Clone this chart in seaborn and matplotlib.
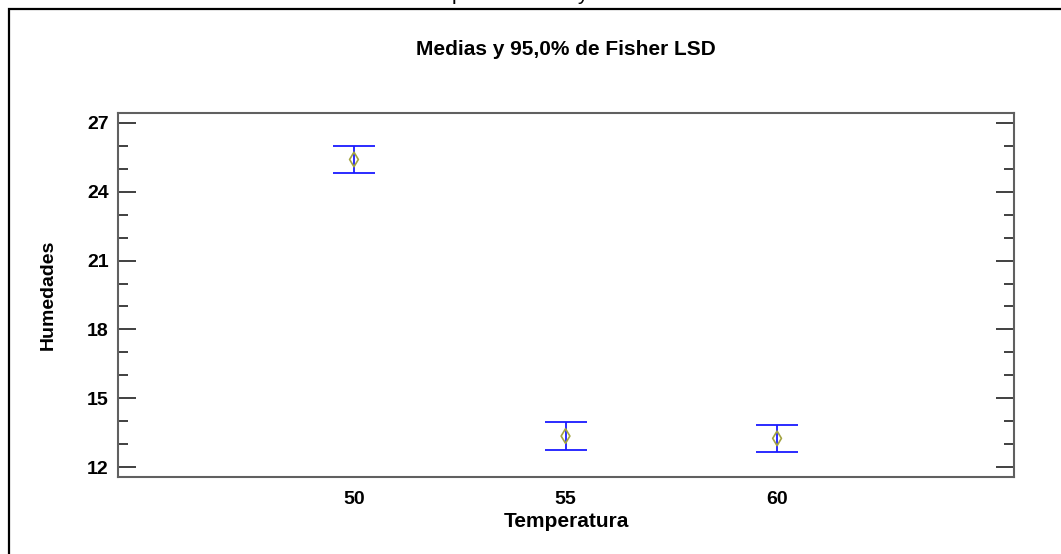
import numpy as np
import pandas as pd
import matplotlib
matplotlib.use("Agg")
import matplotlib.pyplot as plt
from matplotlib.patches import Rectangle
import seaborn as sns

# Means and 95% Fisher LSD intervals
temperaturas = [50, 55, 60]
medias = [25.4, 13.36, 13.26]
lsd_inf = [24.8, 12.76, 12.66]
lsd_sup = [26.0, 13.96, 13.86]

df = pd.DataFrame({'Temperatura': temperaturas, 'Humedades': medias})

sns.set_style('white')
plt.rcParams['font.family'] = ['Liberation Sans', 'DejaVu Sans']
plt.rcParams['text.color'] = 'black'
plt.rcParams['axes.labelcolor'] = 'black'
plt.rcParams['xtick.color'] = 'black'
plt.rcParams['ytick.color'] = 'black'

fig = plt.figure(figsize=(10.61, 5.54), dpi=100)
ax = fig.add_axes([0.1115, 0.1395, 0.8442, 0.656])

err = [np.array(medias) - np.array(lsd_inf), np.array(lsd_sup) - np.array(medias)]
ax.errorbar(df['Temperatura'], df['Humedades'], yerr=err, fmt='none',
            ecolor='#1a1aff', elinewidth=1.3, capsize=15, capthick=1.3, zorder=2)
sns.scatterplot(data=df, x='Temperatura', y='Humedades', ax=ax, marker='d',
                s=55, facecolor='none', edgecolor='#a3a342', linewidth=1.2, zorder=3)

ax.set_xlim(44.43, 65.6)
ax.set_ylim(11.59, 27.41)
ax.set_xticks(temperaturas)
ax.set_yticks([12, 15, 18, 21, 24, 27])
ax.set_yticks(np.arange(12, 28, 1), minor=True)

ax.tick_params(axis='x', length=0, pad=10, labelsize=14)
ax.tick_params(axis='y', which='major', direction='in', length=13, width=1.2,
               left=True, right=True, pad=7, labelsize=14, color='#202020')
ax.tick_params(axis='y', which='minor', direction='in', length=7.5, width=1.2,
               left=True, right=True, color='#202020')
for lab in ax.get_xticklabels() + ax.get_yticklabels():
    lab.set_fontweight('bold')

for sp in ax.spines.values():
    sp.set_visible(True)
    sp.set_color('#606060')
    sp.set_linewidth(1.5)

ax.set_xlabel('Temperatura', fontsize=15, fontweight='bold', labelpad=3)
ax.set_ylabel('Humedades', fontsize=14, fontweight='bold', labelpad=22)

fig.text(0.5335, 0.9007, 'Medias y 95,0% de Fisher LSD', ha='center', va='baseline',
         fontsize=15, fontweight='bold')

# cropped line of text above the frame: only descenders remain
fig.text(457 / 1061, 1.0, 'p', ha='center', va='baseline', fontsize=15)
fig.text(582 / 1061, 1.0, 'y', ha='center', va='baseline', fontsize=15)

fig.patches.append(Rectangle((9 / 1061, -0.1), 1.2, 1.1 - 9 / 554, transform=fig.transFigure,
                             fill=False, edgecolor='black', linewidth=1.6))

fig.savefig('out.png', dpi=100)
